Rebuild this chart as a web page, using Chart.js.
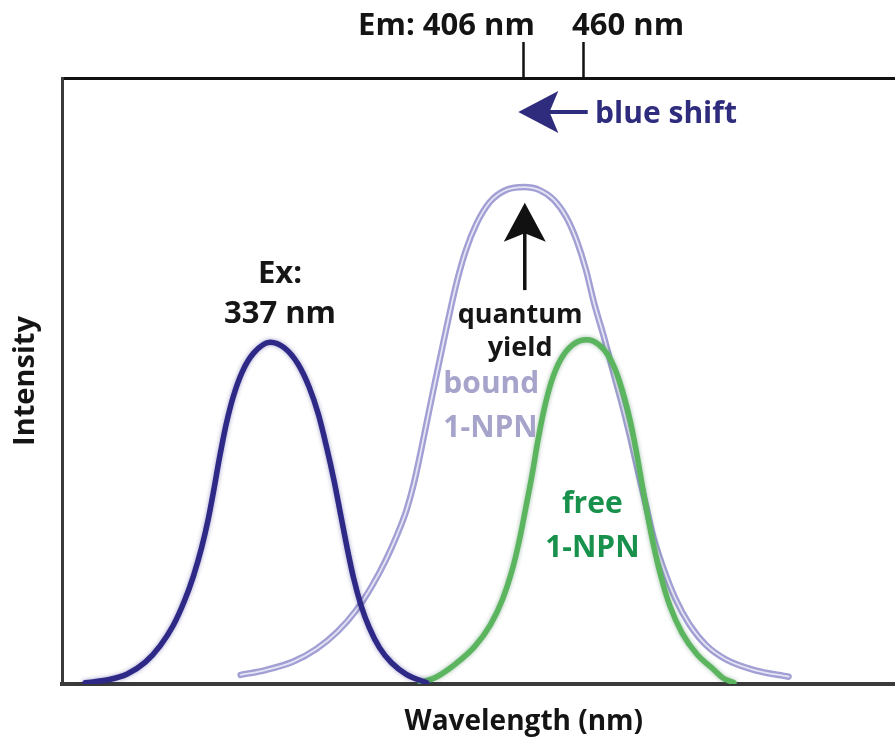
<!DOCTYPE html>
<html>
<head>
<meta charset="utf-8">
<script src="https://cdn.jsdelivr.net/npm/chart.js@4.4.1/dist/chart.umd.min.js"></script>
<style>
html,body{margin:0;padding:0;background:#fff;width:895px;height:740px;overflow:hidden}
canvas{display:block}
</style>
</head>
<body>
<canvas id="c" width="895" height="740"></canvas>
<script>
// Schematic spectra: x = wavelength position (arbitrary units across the frame), y = intensity (0–100)
const exWavelength   = [2.5, 5.0, 7.0, 9.0, 10.6, 12.0, 13.2, 14.2, 15.1, 15.8, 16.4, 17.0, 17.7, 18.5, 19.5, 20.7, 22.5, 24.0, 25.5, 26.7, 27.7, 28.6, 29.4, 30.1, 30.8, 31.5, 32.3, 33.2, 34.3, 35.6, 37.2, 39.4];
const exIntensity    = [0.2, 0.7, 1.6, 3.6, 6.3, 9.6, 13.6, 17.8, 22.6, 27.2, 32.0, 37.2, 42.6, 47.4, 51.6, 54.6, 56.4, 55.5, 52.8, 49.0, 44.5, 39.0, 33.5, 28.0, 22.5, 17.5, 13.0, 9.3, 6.0, 3.5, 1.6, 0.2];

const boundWavelength = [19.3, 22.0, 25.0, 27.5, 29.8, 31.8, 33.5, 35.0, 36.2, 37.2, 38.0, 38.8, 39.6, 40.3, 41.1, 41.8, 42.6, 43.6, 44.8, 46.2, 47.8, 49.9, 51.6, 53.2, 54.5, 55.6, 56.6, 57.5, 58.6, 59.6, 60.6, 61.5, 62.3, 63.1, 63.9, 65.0, 66.3, 67.8, 69.6, 71.8, 74.8, 78.5];
const boundIntensity  = [1.5, 2.3, 3.7, 5.8, 8.7, 12.2, 16.2, 20.5, 24.6, 28.6, 33.0, 38.6, 44.6, 49.8, 55.6, 60.6, 66.0, 71.4, 76.0, 79.5, 81.4, 82.0, 81.5, 79.8, 77.0, 73.2, 68.4, 62.8, 57.0, 51.2, 45.6, 40.0, 34.6, 29.4, 24.2, 19.0, 14.0, 9.8, 6.4, 4.0, 2.3, 1.2];

const freeWavelength = [38.7, 40.5, 42.6, 44.6, 46.3, 47.6, 48.6, 49.4, 50.1, 50.8, 51.4, 52.1, 52.9, 53.9, 55.2, 56.7, 58.0, 59.1, 60.0, 60.7, 61.4, 62.0, 62.6, 63.2, 63.9, 64.7, 65.7, 67.0, 68.6, 70.4, 71.4, 72.6];
const freeIntensity  = [0.2, 1.2, 3.4, 6.2, 9.8, 14.0, 18.6, 23.6, 29.0, 34.6, 40.0, 45.4, 50.0, 53.6, 56.0, 56.8, 56.0, 54.0, 51.0, 47.6, 43.4, 38.8, 33.6, 28.4, 23.0, 17.8, 12.8, 8.4, 4.9, 2.4, 1.0, 0.2];

// Top axis: emission maxima
const emTickPositions = [49.9, 56.3];
const emTickLabels    = ['Em: 406 nm', '460 nm'];

const toPoints = (xs, ys) => xs.map((v, i) => ({x: v, y: ys[i]}));

const FONT = "'Open Sans', 'Noto Sans', sans-serif";

// annotation placement (data units)
const notes = [
  {text: 'Ex:',        x: 23.55, y: 66.2, size: 31, color: '#161616', align: 'center'},
  {text: '337 nm',     x: 23.55, y: 59.6, size: 31, color: '#161616', align: 'center'},
  {text: 'quantum',    x: 49.5,  y: 59.6, size: 27, color: '#161616', align: 'center'},
  {text: 'yield',      x: 49.5,  y: 54.2, size: 27, color: '#161616', align: 'center'},
  {text: 'bound',      x: 41.2,  y: 48.0, size: 30, color: '#a6a4cb', align: 'left'},
  {text: '1-NPN',      x: 41.2,  y: 40.8, size: 30, color: '#a6a4cb', align: 'left'},
  {text: 'free',       x: 57.3,  y: 28.2, size: 30, color: '#17914b', align: 'center'},
  {text: '1-NPN',      x: 57.3,  y: 21.0, size: 30, color: '#17914b', align: 'center'},
  {text: 'blue shift', x: 57.6,  y: 92.6, size: 30, color: '#2f2b7d', align: 'left'}
];
const arrows = [
  {x1: 50.0, y1: 65.0, x2: 50.0, y2: 79.4, color: '#111111', head: 39, half: 21, w: 3.5},
  {x1: 56.8, y1: 94.4, x2: 49.3, y2: 94.4, color: '#2f2b7d', head: 40, half: 21, w: 4}
];

function drawArrow(ctx, ax, ay, bx, by, a) {
  const dx = bx - ax, dy = by - ay, len = Math.hypot(dx, dy);
  const ux = dx / len, uy = dy / len, px = -uy, py = ux;
  const baseX = bx - ux * a.head, baseY = by - uy * a.head;
  ctx.strokeStyle = a.color; ctx.fillStyle = a.color; ctx.lineWidth = a.w; ctx.lineCap = 'butt';
  ctx.beginPath(); ctx.moveTo(ax, ay); ctx.lineTo(bx - ux * a.head * 0.7, by - uy * a.head * 0.7); ctx.stroke();
  ctx.beginPath();
  ctx.moveTo(bx, by);
  ctx.lineTo(baseX + px * a.half, baseY + py * a.half);
  ctx.lineTo(bx - ux * a.head * 0.78, by - uy * a.head * 0.78);
  ctx.lineTo(baseX - px * a.half, baseY - py * a.half);
  ctx.closePath(); ctx.fill();
}

const annotate = {
  id: 'annotate',
  afterDraw(chart) {
    const {ctx, scales, chartArea} = chart;
    const x = scales.x, y = scales.y, top = scales.xTop;
    ctx.save();
    ctx.textBaseline = 'alphabetic';
    notes.forEach(n => {
      ctx.font = `bold ${n.size}px ${FONT}`;
      ctx.fillStyle = n.color;
      ctx.textAlign = n.align;
      ctx.fillText(n.text, x.getPixelForValue(n.x), y.getPixelForValue(n.y));
    });
    arrows.forEach(a => drawArrow(ctx, x.getPixelForValue(a.x1), y.getPixelForValue(a.y1),
                                        x.getPixelForValue(a.x2), y.getPixelForValue(a.y2), a));
    // top tick labels (emission maxima)
    ctx.font = `bold 31px ${FONT}`;
    ctx.fillStyle = '#141414';
    const base = chartArea.top - 43;
    ctx.textAlign = 'right';
    ctx.fillText(emTickLabels[0], top.getPixelForValue(emTickPositions[0]) + 11, base);
    ctx.textAlign = 'left';
    ctx.fillText(emTickLabels[1], top.getPixelForValue(emTickPositions[1]) - 11, base);
    // x axis title
    ctx.font = `bold 28px ${FONT}`;
    ctx.textAlign = 'center';
    ctx.fillText('Wavelength (nm)', x.getPixelForValue(49.9), chartArea.bottom + 46);
    ctx.restore();
  }
};

const glow = {
  id: 'glow',
  beforeDatasetDraw(chart, args) {
    const ds = chart.data.datasets[args.index];
    if (ds.glow) {
      chart.ctx.save();
      chart.ctx.shadowColor = ds.glow;
      chart.ctx.shadowBlur = 4;
    }
  },
  afterDatasetDraw(chart, args) {
    if (chart.data.datasets[args.index].glow) chart.ctx.restore();
  }
};

new Chart(document.getElementById('c'), {
  type: 'line',
  data: {
    datasets: [
      {label: 'Ex 337 nm', data: toPoints(exWavelength, exIntensity), borderColor: '#2e2886', borderWidth: 5.5, glow: 'rgba(46,40,134,0.45)'},
      {label: 'free 1-NPN', data: toPoints(freeWavelength, freeIntensity), borderColor: '#5ab55e', borderWidth: 5.5, glow: 'rgba(40,110,60,0.45)'},
      {label: 'bound 1-NPN (inner)', data: toPoints(boundWavelength, boundIntensity), borderColor: '#e6e5f5', borderWidth: 1.8},
      {label: 'bound 1-NPN', data: toPoints(boundWavelength, boundIntensity), borderColor: '#a19fd3', borderWidth: 6.5}
    ]
  },
  options: {
    responsive: false,
    animation: false,
    devicePixelRatio: 1,
    layout: {padding: {left: 8, top: 42, right: 0, bottom: 56}},
    elements: {
      point: {radius: 0, hoverRadius: 0},
      line: {cubicInterpolationMode: 'monotone', fill: false, borderCapStyle: 'round', borderJoinStyle: 'round'}
    },
    plugins: {legend: {display: false}, tooltip: {enabled: false}},
    scales: {
      x: {
        type: 'linear', position: 'bottom', min: 0, max: 90,
        grid: {display: false, drawTicks: false},
        ticks: {display: false},
        border: {display: true, color: '#3a3a3a', width: 4}
      },
      xTop: {
        type: 'linear', position: 'top', min: 0, max: 90,
        afterBuildTicks: s => { s.ticks = emTickPositions.map(v => ({value: v})); },
        grid: {display: true, drawOnChartArea: false, drawTicks: true, tickLength: 36, tickWidth: 2.5, tickColor: '#111', color: '#111'},
        ticks: {display: false},
        border: {display: true, color: '#111', width: 3}
      },
      y: {
        type: 'linear', position: 'left', min: 0, max: 100,
        grid: {display: false, drawTicks: false},
        ticks: {display: false},
        border: {display: true, color: '#3a3a3a', width: 3},
        title: {display: true, text: 'Intensity', color: '#151515',
                font: {family: FONT, size: 29, weight: 'bold'}, padding: {top: 0, bottom: 19.2}}
      }
    }
  },
  plugins: [glow, annotate]
});
</script>
</body>
</html>
